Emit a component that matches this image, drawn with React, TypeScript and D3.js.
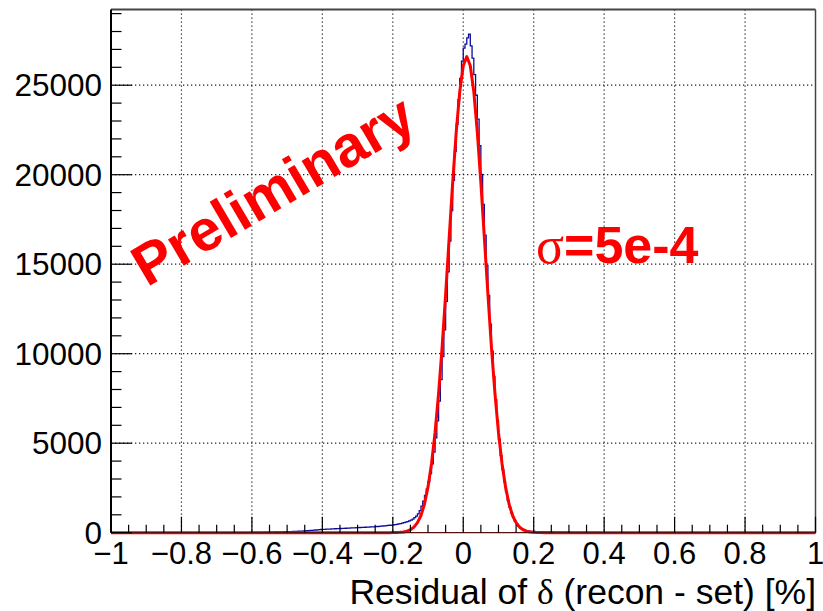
import * as d3 from 'd3'

const W = 823, H = 611
const M = { left: 111, right: 815.5, top: 9.5, bottom: 532.7 }

// histogram: bins of 0.005 starting at -0.60, everything else is empty
const histLow = -0.6
const binWidth = 0.005
const counts = [
  10, 10, 15, 15, 20, 20, 20, 25, 25, 30,
  30, 35, 35, 40, 40, 45, 45, 50, 55, 55,
  60, 60, 65, 70, 70, 75, 80, 85, 90, 95,
  100, 110, 115, 125, 130, 140, 150, 160, 170, 180,
  185, 190, 195, 200, 205, 210, 215, 220, 225, 230,
  235, 240, 245, 250, 255, 260, 265, 270, 275, 280,
  285, 290, 295, 300, 305, 310, 315, 320, 325, 330,
  335, 345, 355, 365, 375, 385, 395, 405, 415, 425,
  440, 455, 470, 490, 510, 530, 560, 590, 620, 660,
  700, 760, 840, 930, 1050, 1230, 1480, 1760, 2080, 2450,
  2850, 3300, 3850, 4500, 5300, 6250, 7350, 8550, 9840, 11330,
  12920, 14580, 16290, 18000, 19680, 21310, 22820, 24190, 25380, 26350,
  27070, 27300, 27650, 27850, 27200, 26510, 25590, 24440, 23110, 21620,
  20020, 18340, 16630, 14920, 13260, 11650, 10140, 8730, 7430, 6270,
  5220, 4310, 3520, 2850, 2280, 1810, 1410, 1100, 840, 640,
  480, 360, 260, 190, 140, 110, 95, 85, 78, 72,
  66, 62, 58, 55, 52, 50, 47, 45, 43, 41,
  39, 37, 35, 33, 32, 30, 29, 27, 26, 25,
  24, 23, 22, 21, 20, 19, 18, 17, 16, 15,
  15, 14, 13, 12, 12, 11, 10, 10, 9, 9,
  8, 8, 7, 7, 6, 6, 5, 5, 4, 4,
  3, 3, 3, 2, 2, 2, 1, 1, 1, 0,
]

// gaussian fit, sampled
const fitX = [-1, -0.3, -0.24, -0.23, -0.22, -0.21, -0.2, -0.19, -0.18, -0.17, -0.16, -0.15, -0.14, -0.13, -0.12, -0.11,
  -0.1, -0.09, -0.08, -0.07, -0.06, -0.05, -0.04, -0.03, -0.02, -0.01, 0, 0.01, 0.02, 0.03, 0.04, 0.05, 0.06,
  0.07, 0.08, 0.09, 0.1, 0.11, 0.12, 0.13, 0.14, 0.15, 0.16, 0.17, 0.18, 0.19, 0.2, 0.21, 0.22, 0.23, 0.24, 0.3, 1]
const fitY = [0, 0, 0, 1, 2, 3, 5, 10, 20, 42, 85, 165, 310, 560, 960, 1600,
  2560, 3870, 5600, 7780, 10370, 13320, 16460, 19560, 22370, 24630, 26090, 26600, 26090, 24630, 22370, 19560, 16460,
  13320, 10370, 7780, 5600, 3870, 2560, 1600, 960, 560, 310, 165, 85, 42, 20, 10, 5, 2, 1, 0, 0]

const xTicks = [-1, -0.8, -0.6, -0.4, -0.2, 0, 0.2, 0.4, 0.6, 0.8, 1]
const xTickLabels = ['−1', '−0.8', '−0.6', '−0.4', '−0.2', '0', '0.2', '0.4', '0.6', '0.8', '1']
const yTicks = [0, 5000, 10000, 15000, 20000, 25000]

const FONT = '"Liberation Sans", Arial, Helvetica, sans-serif'
const SERIF = '"Liberation Serif", "DejaVu Serif", serif'

export default function App() {
  const x = d3.scaleLinear().domain([-1, 1]).range([M.left, M.right])
  const y = d3.scaleLinear().domain([0, 29230]).range([M.bottom, M.top])

  // stair path for histogram
  let hist = `M${x(-1)},${y(0)}H${x(histLow)}`
  counts.forEach((c, i) => {
    const x0 = histLow + i * binWidth
    hist += `V${y(c)}H${x(x0 + binWidth)}`
  })
  hist += `V${y(0)}H${x(1)}`

  const fitLine = d3.line<number>().x((d, i) => x(fitX[i])).y((d) => y(d))

  const xMinor = d3.range(-1, 1.0001, 0.05)
  const yMinor = d3.range(0, 29001, 1000)

  return (
    <svg width={W} height={H} style={{ position: 'absolute', left: 0, top: 0, background: '#fff' }} fontFamily={FONT}>
      <rect width={W} height={H} fill="#fff" />
      {/* grid */}
      {xTicks.slice(1, -1).map((t) => (
        <line key={'gx' + t} x1={x(t)} x2={x(t)} y1={M.top} y2={M.bottom} stroke="#222" strokeWidth={1.2} strokeDasharray="1.3,2.7" />
      ))}
      {yTicks.slice(1).map((t) => (
        <line key={'gy' + t} x1={M.left} x2={M.right} y1={y(t)} y2={y(t)} stroke="#222" strokeWidth={1.2} strokeDasharray="1.3,2.7" />
      ))}

      {/* data */}
      <path d={hist} fill="none" stroke="#0c0c9c" strokeWidth={1.3} />
      <path d={fitLine(fitY) || ''} fill="none" stroke="#ff0000" strokeWidth={3} strokeLinejoin="round" />

      {/* frame */}
      <line x1={M.left} x2={M.right} y1={M.top} y2={M.top} stroke="#444" strokeWidth={2} />
      <line x1={M.right} x2={M.right} y1={M.top} y2={M.bottom} stroke="#444" strokeWidth={1.5} />
      <line x1={M.left} x2={M.left} y1={M.top} y2={M.bottom} stroke="#000" strokeWidth={2} />
      <line x1={M.left} x2={M.right} y1={M.bottom} y2={M.bottom} stroke="#5a1010" strokeWidth={1.2} />

      {/* x ticks */}
      {xMinor.map((t, i) => (
        <line key={'xm' + i} x1={x(t)} x2={x(t)} y1={M.bottom} y2={M.bottom - (i % 4 === 0 ? 16 : 8)} stroke="#000" strokeWidth={1.2} />
      ))}
      {xTicks.map((t, i) => (
        <text key={'xl' + t} x={x(t)} y={564} fontSize={31} textAnchor="middle" fill="#000">{xTickLabels[i]}</text>
      ))}

      {/* y ticks */}
      {yMinor.map((t, i) => (
        <line key={'ym' + i} x1={M.left} x2={M.left + (i % 5 === 0 ? 21 : 10.5)} y1={y(t)} y2={y(t)} stroke="#000" strokeWidth={1.2} />
      ))}
      {yTicks.map((t) => (
        <text key={'yl' + t} x={102} y={y(t)} dy={11} fontSize={31.5} textAnchor="end" fill="#000">{t}</text>
      ))}

      {/* axis title */}
      <text x={816} y={604} fontSize={35.5} textAnchor="end" fill="#000">
        Residual of <tspan fontFamily={SERIF}>δ</tspan> (recon - set) [%]
      </text>

      {/* annotations */}
      <text transform="translate(273,190) rotate(-30.5)" y={20} fontSize={58} fontWeight="bold" textAnchor="middle" fill="#ff0000">
        Preliminary
      </text>
      <text x={536} y={263} fontSize={52} fill="#ff0000">
        <tspan fontFamily={SERIF}>σ</tspan>
        <tspan fontWeight="bold">=5e-4</tspan>
      </text>
    </svg>
  )
}
